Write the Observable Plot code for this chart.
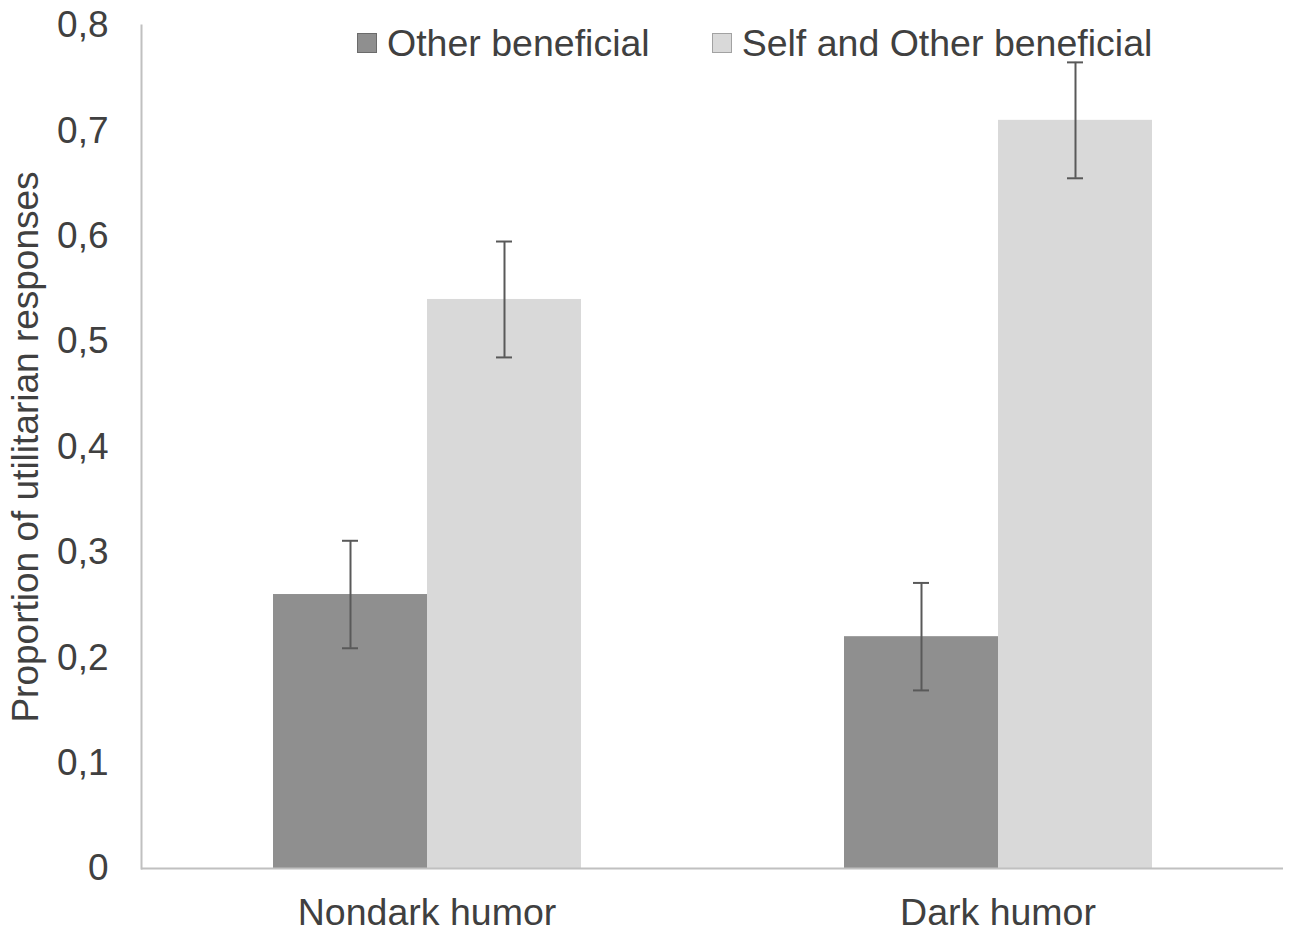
<!DOCTYPE html>
<html>
<head>
<meta charset="utf-8">
<script src="https://cdn.jsdelivr.net/npm/d3@7"></script>
<script src="https://cdn.jsdelivr.net/npm/@observablehq/plot@0.6"></script>
<style>
  html, body { margin: 0; padding: 0; background: #fff; }
  #wrap { position: relative; width: 1299px; height: 932px; font-family: "Liberation Sans", Arial, sans-serif; color: #404040; }
  #legend { position: absolute; left: 357px; top: 25px; height: 36px; display: flex; align-items: center; font-size: 37.5px; white-space: nowrap; }
  .item { display: flex; align-items: center; }
  .item + .item { margin-left: 62px; }
  .sw { width: 18px; height: 18px; margin-right: 10px; border: 1px solid rgba(0,0,0,0.25); }
</style>
</head>
<body>
<div id="wrap"><div id="chart"></div><div id="legend"></div></div>
<script>
const groups = ["Nondark humor", "Dark humor"];
const series = ["Other beneficial", "Self and Other beneficial"];
const otherValues = [0.26, 0.22];
const selfValues = [0.54, 0.71];
const otherErr = [0.051, 0.051];
const selfErr = [0.055, 0.055];
const yTicks = [0, 0.1, 0.2, 0.3, 0.4, 0.5, 0.6, 0.7, 0.8];
const colors = ["#8f8f8f", "#d9d9d9"];
const yLabel = "Proportion of utilitarian responses";

const data = groups.flatMap((g, i) => [
  {group: g, series: series[0], value: otherValues[i], err: otherErr[i]},
  {group: g, series: series[1], value: selfValues[i], err: selfErr[i]}
]);

const fmt = d => d === 0 ? "0" : d3.format(".1f")(d).replace(".", ",");
const errColor = "#595959";
const axisColor = "#c0c0c0";

const chart = Plot.plot({
  width: 1299,
  height: 932,
  marginLeft: 140,
  marginRight: 16,
  marginTop: 25,
  marginBottom: 64,
  style: {fontFamily: "'Liberation Sans', Arial, sans-serif", fontSize: "37px", color: "#404040", background: "white"},
  fx: {domain: groups, padding: 0, label: null},
  x: {domain: series, paddingInner: 0, paddingOuter: 0.8435, axis: null},
  y: {domain: [0, 0.8]},
  color: {domain: series, range: colors},
  marks: [
    Plot.barY(data, {fx: "group", x: "series", y: "value", fill: "series"}),
    Plot.ruleY([0], {stroke: axisColor, strokeWidth: 2}),
    Plot.frame({anchor: "left", facetAnchor: "left", stroke: axisColor, strokeWidth: 2}),
    Plot.ruleX(data, {fx: "group", x: "series", y1: d => d.value - d.err, y2: d => d.value + d.err, stroke: errColor, strokeWidth: 2}),
    Plot.tickY(data, {fx: "group", x: "series", y: d => d.value - d.err, insetLeft: 69, insetRight: 69, stroke: errColor, strokeWidth: 2}),
    Plot.tickY(data, {fx: "group", x: "series", y: d => d.value + d.err, insetLeft: 69, insetRight: 69, stroke: errColor, strokeWidth: 2}),
    Plot.axisY({ticks: yTicks, tickFormat: fmt, tickSize: 0, tickPadding: 33, label: yLabel, labelArrow: "none", labelAnchor: "center", labelOffset: 130}),
    Plot.axisFx({anchor: "bottom", tickSize: 0, tickPadding: 30, fontSize: 37.5, label: null})
  ]
});
document.getElementById("chart").appendChild(chart);

const legend = document.getElementById("legend");
series.forEach((s, i) => {
  const item = document.createElement("div");
  item.className = "item";
  const sw = document.createElement("span");
  sw.className = "sw";
  sw.style.background = colors[i];
  const t = document.createElement("span");
  t.textContent = s;
  item.appendChild(sw);
  item.appendChild(t);
  legend.appendChild(item);
});
</script>
</body>
</html>
